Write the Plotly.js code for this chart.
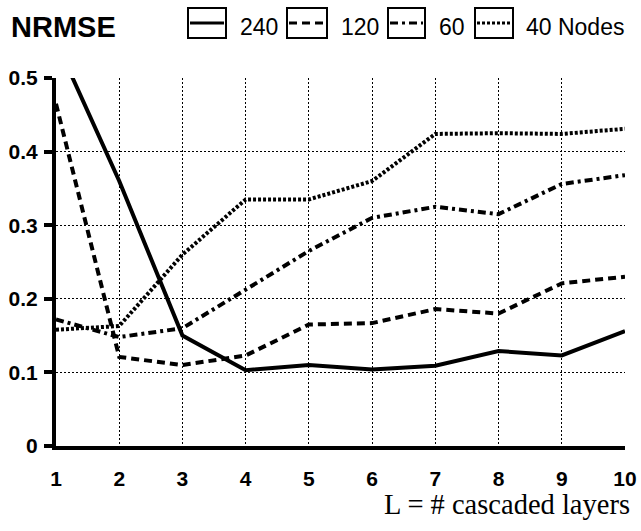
<!DOCTYPE html>
<html><head><meta charset="utf-8">
<script src="https://cdn.plot.ly/plotly-3.0.1.min.js"></script>
<style>body{margin:0;background:#fff}#c{width:641px;height:531px}</style>
</head><body><div id="c"></div>
<script>
const layers = [1,2,3,4,5,6,7,8,9,10];
const nodes240 = [0.55,0.36,0.15,0.103,0.11,0.104,0.109,0.129,0.123,0.156];
const nodes120 = [0.465,0.121,0.11,0.123,0.165,0.167,0.186,0.18,0.221,0.23];
const nodes60  = [0.172,0.148,0.16,0.213,0.265,0.31,0.325,0.315,0.356,0.368];
const nodes40  = [0.158,0.163,0.26,0.335,0.335,0.36,0.424,0.425,0.424,0.431];
const seriesNames = ['240','120','60','40 Nodes'];
const yTicks = [0,0.1,0.2,0.3,0.4,0.5];
const yTickText = ['0','0.1','0.2','0.3','0.4','0.5'];

const dashes = ['solid','8px,5px','8px,4px,3px,4px','3px,2px'];
const allY = [nodes240,nodes120,nodes60,nodes40];
const SANS = 'Liberation Sans, Arial, sans-serif';

const traces = allY.map((y,i)=>({
  x: layers, y: y, type:'scatter', mode:'lines', name: seriesNames[i], showlegend:false,
  line:{color:'#000', width: 4, dash: dashes[i]}
}));

// plot-area pixel helpers (plot area: x 56..625, y 78..446)
const PX = v => (v-56)/569, PY = v => (446-v)/368;
const legBoxes = [[188,226],[287,327],[388,425],[475,513]];
const legText = [238,339,437,524];
const shapes = [], annotations = [];
legBoxes.forEach((b,i)=>{
  shapes.push({type:'rect', xref:'paper', yref:'paper', x0:PX(b[0]), x1:PX(b[1]), y0:PY(8), y1:PY(38),
               line:{color:'#000', width:2}, fillcolor:'rgba(0,0,0,0)', layer:'above'});
  shapes.push({type:'line', xref:'paper', yref:'paper', x0:PX(b[0]+2), x1:PX(b[1]-2), y0:PY(23), y1:PY(23),
               line:{color:'#000', width:3, dash:dashes[i]}, layer:'above'});
  annotations.push({text:seriesNames[i], xref:'paper', yref:'paper', x:PX(legText[i]), y:PY(27),
                    xanchor:'left', yanchor:'middle', showarrow:false,
                    font:{family:SANS, size:23, color:'#000'}});
});

const tickFont = {family:SANS, size:21, color:'#000', weight:700};
const layout = {
  width:641, height:531,
  margin:{l:56, r:16, t:78, b:85, autoexpand:false},
  paper_bgcolor:'#fff', plot_bgcolor:'#fff',
  showlegend:false,
  shapes, annotations,
  title:{text:'<b>NRMSE</b>', x:11/641, xref:'container', xanchor:'left', y:1-27/531, yref:'container', yanchor:'middle',
         font:{family:SANS, size:29, color:'#000'}},
  xaxis:{range:[1,10], tickvals:layers, ticktext:layers.map(String),
         showgrid:true, gridcolor:'#000', griddash:'2px,2px', gridwidth:1,
         showline:true, linecolor:'#000', linewidth:4, zeroline:false,
         ticks:'', tickfont:tickFont, ticklabelstandoff:11,
         title:{text:'L = # cascaded layers', standoff:14,
                font:{family:'Liberation Serif, Times New Roman, serif', size:28.5, color:'#000'}}},
  yaxis:{range:[0,0.5], tickvals:yTicks, ticktext:yTickText,
         showgrid:true, gridcolor:'#000', griddash:'2px,2px', gridwidth:1,
         showline:true, linecolor:'#000', linewidth:4, zeroline:false,
         ticks:'outside', ticklen:8, tickwidth:4, tickcolor:'#000', tickfont:tickFont, ticklabelstandoff:2}
};
Plotly.newPlot('c', traces, layout, {displayModeBar:false, staticPlot:true}).then(gd=>{
  const t = document.querySelector('.g-xtitle text');
  if (t) { t.setAttribute('text-anchor','end'); t.setAttribute('x', 630); t.setAttribute('y', 514); }
});
</script></body></html>
